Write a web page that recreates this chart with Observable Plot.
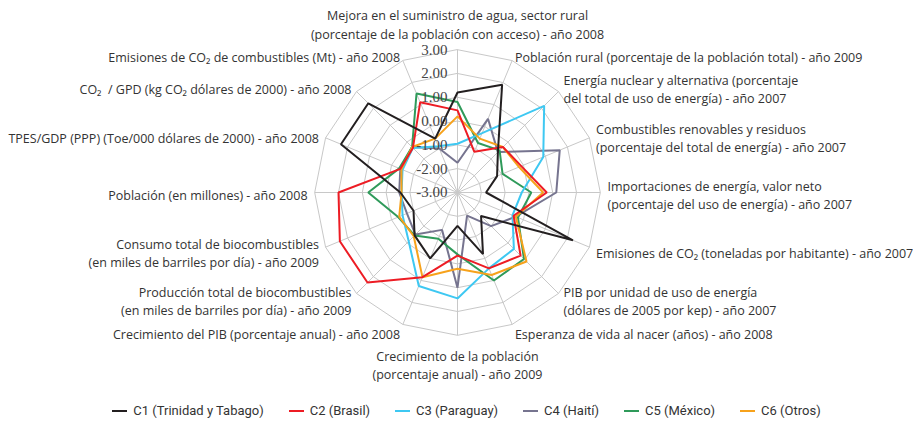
<!DOCTYPE html>
<html>
<head>
<meta charset="utf-8">
<script src="https://cdn.jsdelivr.net/npm/d3@7"></script>
<script src="https://cdn.jsdelivr.net/npm/@observablehq/plot@0.6"></script>
<style>
  html, body { margin: 0; padding: 0; background: #fff; }
  #chart svg { display: block; }
  #legend { height: 21px; display: flex; justify-content: center; align-items: center; gap: 25px;
            font-family: "Roboto", "Liberation Sans", sans-serif; font-size: 13px; color: #333; padding-left: 20px; }
  .item { display: flex; align-items: center; gap: 6px; }
  .sw { width: 15px; height: 2px; }
</style>
</head>
<body>
<div id="chart"></div>
<div id="legend"></div>
<script>
// ---- data ----
const axisLabels = [
  "Mejora en el suministro de agua, sector rural\n(porcentaje de la población con acceso) - año 2008",
  "Población rural (porcentaje de la población total) - año 2009",
  "Energía nuclear y alternativa (porcentaje\ndel total de uso de energía) - año 2007",
  "Combustibles renovables y residuos\n(porcentaje del total de energía) - año 2007",
  "Importaciones de energía, valor neto\n(porcentaje del uso de energía) - año 2007",
  "Emisiones de CO₂ (toneladas por habitante) - año 2007",
  "PIB por unidad de uso de energía\n(dólares de 2005 por kep) - año 2007",
  "Esperanza de vida al nacer (años) - año 2008",
  "Crecimiento de la población\n(porcentaje anual) - año 2009",
  "Crecimiento del PIB (porcentaje anual) - año 2008",
  "Producción total de biocombustibles\n(en miles de barriles por día) - año 2009",
  "Consumo total de biocombustibles\n(en miles de barriles por día) - año 2009",
  "Población (en millones) - año 2008",
  "TPES/GDP (PPP) (Toe/000 dólares de 2000) - año 2008",
  "CO₂  / GPD (kg CO₂ dólares de 2000) - año 2008",
  "Emisiones de CO₂ de combustibles (Mt) - año 2008"
];
const ringTicks = [-3, -2, -1, 0, 1, 2, 3];
const seriesNames = ["C1 (Trinidad y Tabago)", "C2 (Brasil)", "C3 (Paraguay)", "C4 (Haití)", "C5 (México)", "C6 (Otros)"];
const seriesColors = ["#231f20", "#ed1c24", "#3ec8f2", "#76748f", "#2f9a5a", "#f7a21b"];
const c1 = [1.2, 1.9, -0.6, -1.2, -1.8, 2.25, -1.6, -0.2, -1.6, 0.0, -0.45, -1.0, -0.6, 2.3, 2.3, -0.55];
const c2 = [0.45, -1.15, -0.3, -0.1, 0.75, -0.45, 0.75, 0.45, -0.35, 0.85, 2.35, 2.35, 2.0, -0.4, -0.35, 1.1];
const c3 = [-0.95, -0.3, 2.15, 0.9, -0.3, -0.5, 0.35, 0.45, 1.45, 1.25, -0.1, -0.5, -0.65, -0.5, -0.35, -0.9];
const c4 = [-1.75, 0.35, -0.6, 1.65, 1.15, -0.35, -1.0, -1.95, 1.0, -1.3, -0.5, -0.7, -0.55, -0.4, -0.3, -1.0];
const c5 = [0.8, -0.75, -0.5, -0.95, 0.1, -0.25, 0.95, 1.0, -0.4, -0.9, -0.45, -0.3, 0.75, -0.35, -0.3, 1.5];
const c6 = [0.2, -0.55, -0.3, -0.2, 0.6, -0.35, 1.1, 0.75, 0.2, 0.85, -0.4, -0.35, -0.65, -0.45, -0.3, -0.55];

// ---- geometry helpers ----
const N = axisLabels.length;
const vmin = -3;
const W = 913, H = 400, CX = 457, CY = 192, U = 23.8; // px per unit
const ang = k => k * 2 * Math.PI / N;
const px = (k, v) => (v - vmin) * Math.sin(ang(k));
const py = (k, v) => (v - vmin) * Math.cos(ang(k));

const seriesVals = [c1, c2, c3, c4, c5, c6];
const seriesRows = seriesVals.flatMap((vals, i) =>
  vals.map((v, k) => ({s: seriesNames[i], k, x: px(k, v), y: py(k, v)})));

const gridRows = ringTicks.slice(1).flatMap(t =>
  axisLabels.map((_, k) => ({t, k, x: px(k, t), y: py(k, t)})));
const spokes = axisLabels.map((_, k) => ({x2: px(k, 3), y2: py(k, 3)}));

const labelR = 3.3;
const labels = axisLabels.map((text, k) => {
  const s = Math.sin(ang(k)), c = Math.cos(ang(k));
  const group = Math.abs(s) < 0.1 ? (c > 0 ? "top" : "bottom") : (s > 0 ? "right" : "left");
  return {text, k, group, x: px(k, labelR), y: py(k, labelR)};
});

const lineOrder = [3, 4, 2, 5, 1, 0];
const lab = {lineHeight: 1.45, fontSize: 12.5, fill: "#333"};

const chart = Plot.plot({
  width: W, height: H, margin: 0,
  x: {domain: [-CX / U, (W - CX) / U], axis: null},
  y: {domain: [-(H - CY) / U, CY / U], axis: null},
  color: {domain: seriesNames, range: seriesColors},
  style: {fontFamily: "'Open Sans', sans-serif", background: "#fff"},
  marks: [
    Plot.link(spokes, {x1: () => 0, y1: () => 0, x2: "x2", y2: "y2", stroke: "#c8c8c8", strokeWidth: 1}),
    Plot.line(gridRows, {x: "x", y: "y", z: "t", curve: "linear-closed", stroke: "#c8c8c8", strokeWidth: 1}),
    ...lineOrder.map(i => Plot.line(seriesRows.filter(d => d.s === seriesNames[i]),
      {x: "x", y: "y", curve: "linear-closed", stroke: "s", strokeWidth: 2, strokeLinejoin: "miter"})),
    Plot.text(ringTicks, {x: () => 0, y: d => d - vmin, text: d => d.toFixed(2), textAnchor: "end", dx: -10,
      fontFamily: "'Liberation Serif', serif", fontSize: 15, fill: "#444"}),
    Plot.text(labels.filter(d => d.group === "right"), {x: "x", y: "y", text: "text", textAnchor: "start",
      lineAnchor: "middle", dy: 2, ...lab}),
    Plot.text(labels.filter(d => d.group === "left"), {x: "x", y: "y", text: "text", textAnchor: "end",
      lineAnchor: "middle", dy: 2, ...lab}),
    Plot.text(labels.filter(d => d.group === "top"), {x: "x", y: "y", text: "text", textAnchor: "middle",
      lineAnchor: "bottom", dy: -4, ...lab}),
    Plot.text(labels.filter(d => d.group === "bottom"), {x: "x", y: "y", text: "text", textAnchor: "middle",
      lineAnchor: "top", dy: 6, ...lab})
  ]
});
document.getElementById("chart").append(chart);

const legend = document.getElementById("legend");
seriesNames.forEach((name, i) => {
  const item = document.createElement("div");
  item.className = "item";
  const sw = document.createElement("span");
  sw.className = "sw";
  sw.style.background = seriesColors[i];
  const t = document.createElement("span");
  t.textContent = name;
  item.append(sw, t);
  legend.append(item);
});
</script>
</body>
</html>
